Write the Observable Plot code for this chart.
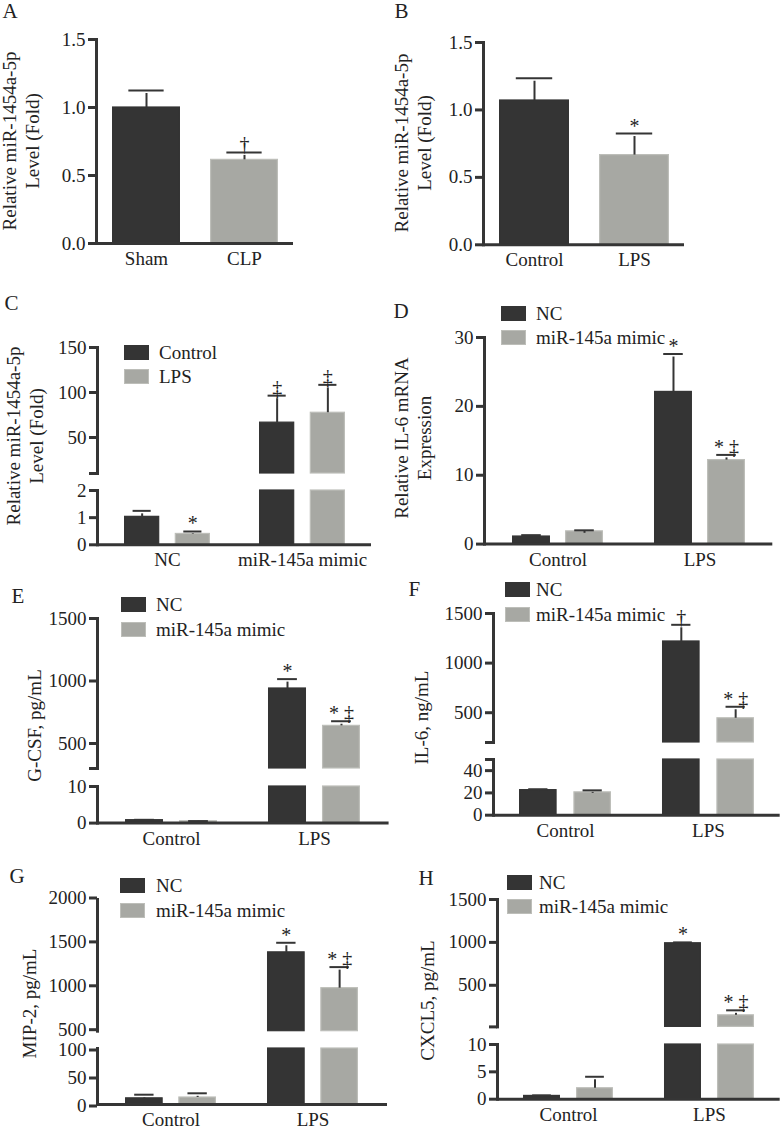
<!DOCTYPE html>
<html>
<head>
<meta charset="utf-8">
<script src="https://cdn.jsdelivr.net/npm/d3@7"></script>
<script src="https://cdn.jsdelivr.net/npm/@observablehq/plot@0.6"></script>
<style>
html, body { margin: 0; padding: 0; background: #fff; }
#root { position: relative; width: 784px; height: 1132px; overflow: hidden; font-family: "Liberation Serif", "DejaVu Serif", serif; color: #222; }
#root svg { position: absolute; overflow: visible; }
.letter { position: absolute; font-size: 21px; line-height: 21px; white-space: nowrap; }
.ylab { position: absolute; font-size: 19px; line-height: 23px; text-align: center; white-space: nowrap; transform: rotate(-90deg); transform-origin: 50% 50%; }
.sw { position: absolute; width: 25px; height: 15px; box-sizing: border-box; }
.lt { position: absolute; font-size: 19px; line-height: 19px; white-space: nowrap; }
</style>
</head>
<body>
<div id="root"></div>
<script>
// ---------------- DATA ----------------
// Panel A
const aCats = ["Sham", "CLP"];
const aMean = [1.0, 0.615];
const aUpper = [1.125, 0.67];
const aSig = ["", "†"];
const aTicks = [0, 0.5, 1.0, 1.5];

// Panel B
const bCats = ["Control", "LPS"];
const bMean = [1.07, 0.665];
const bUpper = [1.235, 0.825];
const bSig = ["", "*"];
const bTicks = [0, 0.5, 1.0, 1.5];

// Panel C (groups: NC / mimic ; series: Control / LPS)
const cGroups = ["NC", "miR-145a mimic"];
const cSeries = ["Control", "LPS"];
const cControlMean = [1.03, 66.5];
const cControlUpper = [1.25, 96.5];
const cControlSig = ["", "‡"];
const cLpsMean = [0.4, 77.5];
const cLpsUpper = [0.49, 108.5];
const cLpsSig = ["*", "‡"];
const cUpperTicks = [10, 50, 100, 150];
const cUpperLabeled = [50, 100, 150];
const cLowerTicks = [0, 1, 2];

// Shared groups / series for D–H
const groups = ["Control", "LPS"];
const series = ["NC", "miR-145a mimic"];

// Panel D
const dNcMean = [1.1, 22.1];
const dNcUpper = [1.3, 27.6];
const dNcSig = ["", "*"];
const dMimMean = [1.85, 12.2];
const dMimUpper = [2.0, 12.95];
const dMimSig = ["", "* ‡"];
const dTicks = [0, 10, 20, 30];

// Panel E (G-CSF)
const eNcMean = [0.8, 940];
const eNcUpper = [0.9, 1015];
const eNcSig = ["", "*"];
const eMimMean = [0.5, 641];
const eMimUpper = [0.55, 678];
const eMimSig = ["", "* ‡"];
const eUpperTicks = [300, 500, 1000, 1500];
const eUpperLabeled = [500, 1000, 1500];
const eLowerTicks = [0, 10];

// Panel F (IL-6)
const fNcMean = [22.5, 1218];
const fNcUpper = [23.3, 1386];
const fNcSig = ["", "†"];
const fMimMean = [20.5, 444];
const fMimUpper = [22.3, 560];
const fMimSig = ["", "* ‡"];
const fUpperTicks = [200, 500, 1000, 1500];
const fUpperLabeled = [500, 1000, 1500];
const fLowerTicks = [0, 20, 40, 50];
const fLowerLabeled = [0, 20, 40];

// Panel G (MIP-2)
const gNcMean = [11, 1398];
const gNcUpper = [17.5, 1507];
const gNcSig = ["", "*"];
const gMimMean = [12.5, 990];
const gMimUpper = [20, 1230];
const gMimSig = ["", "* ‡"];
const gUpperTicks = [500, 1000, 1500, 2000];
const gLowerTicks = [0, 50, 100];

// Panel H (CXCL5)
const hNcMean = [0.6, 990];
const hNcUpper = [0.7, 1000];
const hNcSig = ["", "*"];
const hMimMean = [2.0, 150];
const hMimUpper = [4.1, 208];
const hMimSig = ["", "* ‡"];
const hUpperTicks = [15, 500, 1000, 1500];
const hUpperLabeled = [500, 1000, 1500];
const hLowerTicks = [0, 5, 10];

// ---------------- STYLE ----------------
const FONT = '"Liberation Serif", "DejaVu Serif", serif';
const DARK = "#343434";
const LIGHT = "#a7a8a3";
const LIGHT_EDGE = "#bdbeb9";
const AX = "#353535";
const FS = 19;

const root = document.getElementById("root");

function simpleRows(cats, mean, upper, sig) {
  return cats.map((c, i) => ({group: c, si: i, mean: mean[i], upper: upper[i], sig: sig[i]}));
}
function groupedRows(gs, means, uppers, sigs) {
  return gs.flatMap((g, gi) => means.map((m, si) => ({group: g, si, mean: m[gi], upper: uppers[si][gi], sig: sigs[si][gi]})));
}

function segment(o) {
  const {x0, x1, yTop, yBot, domain, ticks, labeled, fmt, cats, rows, pi, po, gap, grouped, bottom} = o;
  const labelDy = o.labelDy || 0;
  const ML = 70, MR = 10, MT = 34, MB = bottom ? 40 : 6;
  const W = x1 - x0 + ML + MR, H = yBot - yTop + MT + MB;
  const n = cats.length;
  const step = (x1 - x0) / (n - pi + 2 * po);
  const bw = step * (1 - pi);
  const barW = grouped ? (bw - gap) / 2 : bw;
  const capW = barW * 0.52;
  const [lo, hi] = domain;
  const marks = [];
  for (let si = 0; si < 2; si++) {
    const sub = rows.filter(r => r.si === si);
    const inL = grouped ? si * (barW + gap) : 0;
    const inR = grouped ? (1 - si) * (barW + gap) : 0;
    const dx = grouped ? (si - 0.5) * (barW + gap) : 0;
    const fill = si === 0 ? DARK : LIGHT;
    const edge = si === 0 ? DARK : LIGHT_EDGE;
    const inBars = sub.filter(r => r.mean > lo);
    marks.push(Plot.barY(inBars, {
      x: "group", y1: () => lo, y2: r => Math.min(r.mean, hi),
      fill, stroke: edge, strokeWidth: 1.2, insetLeft: inL + 0.6, insetRight: inR + 0.6
    }));
    const withErr = sub.filter(r => r.mean > lo && r.mean < hi);
    marks.push(Plot.ruleX(withErr, {x: "group", y1: "mean", y2: "upper", dx, stroke: AX, strokeWidth: 2, insetBottom: -3}));
    const capIn = (bw - capW) / 2;
    marks.push(Plot.tickY(withErr, {x: "group", y: "upper", dx, stroke: AX, strokeWidth: 2, insetLeft: capIn, insetRight: capIn}));
    marks.push(Plot.text(withErr.filter(r => r.sig), {
      x: "group", y: "upper", text: "sig", dx, dy: -1, lineAnchor: "bottom", fontSize: 20, fill: "#222"
    }));
  }
  const lab = labeled || ticks;
  marks.push(Plot.frame({anchor: "left", stroke: AX, strokeWidth: 3}));
  marks.push(Plot.axisY({
    ticks, tickFormat: d => lab.includes(d) ? fmt(d) : "",
    tickSize: 8, tickPadding: 3, stroke: AX, strokeWidth: 3, fontSize: FS, label: null, dy: labelDy
  }));
  if (bottom) {
    marks.push(Plot.ruleY([lo], {stroke: AX, strokeWidth: 3}));
    marks.push(Plot.axisX({tickSize: 0, tickPadding: 8, fontSize: FS, label: null}));
  }
  const svg = Plot.plot({
    width: W, height: H,
    marginLeft: ML, marginRight: MR, marginTop: MT, marginBottom: MB,
    style: {fontFamily: FONT, fontSize: FS + "px", color: "#222", background: "transparent", overflow: "visible"},
    x: {type: "band", domain: cats, paddingInner: pi, paddingOuter: po, align: 0.5, axis: null},
    y: {domain: [lo, hi], axis: null},
    marks
  });
  svg.style.position = "absolute";
  svg.style.left = (x0 - ML) + "px";
  svg.style.top = (yTop - MT) + "px";
  root.appendChild(svg);
}

function letter(t, x, capTop) {
  const d = document.createElement("div");
  d.className = "letter";
  d.textContent = t;
  d.style.left = (x - 0.5) + "px";
  d.style.top = (capTop - 3.7) + "px";
  root.appendChild(d);
}
function ylabel(lines, cx, cy) {
  const d = document.createElement("div");
  d.className = "ylab";
  const w = 300, h = lines.length * 23;
  d.style.width = w + "px";
  d.style.height = h + "px";
  d.style.left = (cx - w / 2) + "px";
  d.style.top = (cy - h / 2) + "px";
  lines.forEach((l, i) => { if (i) d.appendChild(document.createElement("br")); d.appendChild(document.createTextNode(l)); });
  root.appendChild(d);
}
function legend(names, sx, sy, tx, dy) {
  names.forEach((nm, i) => {
    const s = document.createElement("div");
    s.className = "sw";
    s.style.left = sx + "px";
    s.style.top = (sy + i * dy) + "px";
    s.style.background = i === 0 ? DARK : LIGHT;
    s.style.border = "1.5px solid " + (i === 0 ? DARK : LIGHT_EDGE);
    root.appendChild(s);
    const t = document.createElement("div");
    t.className = "lt";
    t.textContent = nm;
    t.style.left = tx + "px";
    t.style.top = (sy + i * dy + 7.5 - 9.6) + "px";
    root.appendChild(t);
  });
}

const f1 = d3.format(".1f");
const f0 = d3.format("d");

// ---------------- PANEL A ----------------
segment({x0: 96, x1: 293, yTop: 39, yBot: 243, domain: [0, 1.5], ticks: aTicks, fmt: f1,
  cats: aCats, rows: simpleRows(aCats, aMean, aUpper, aSig), pi: 0.31, po: 0.152, grouped: false, bottom: true});
letter("A", 3, 5);
ylabel(["Relative miR-1454a-5p", "Level (Fold)"], 21, 141);

// ---------------- PANEL B ----------------
segment({x0: 482.7, x1: 683.7, yTop: 41.7, yBot: 244, domain: [0, 1.5], ticks: bTicks, fmt: f1,
  cats: bCats, rows: simpleRows(bCats, bMean, bUpper, bSig), pi: 0.30, po: 0.155, grouped: false, bottom: true});
letter("B", 395, 5);
ylabel(["Relative miR-1454a-5p", "Level (Fold)"], 413, 143);

// ---------------- PANEL C ----------------
const cRows = groupedRows(cGroups, [cControlMean, cLpsMean], [cControlUpper, cLpsUpper], [cControlSig, cLpsSig]);
const cX = {x0: 96.7, x1: 370.7, cats: cGroups, rows: cRows, pi: 0.364, po: 0.19, gap: 15, grouped: true, fmt: f0};
segment({...cX, yTop: 346.7, yBot: 472.7, domain: [10, 150], ticks: cUpperTicks, labeled: cUpperLabeled, bottom: false});
segment({...cX, yTop: 490, yBot: 544.3, domain: [0, 2], ticks: cLowerTicks, bottom: true});
letter("C", 5, 297);
ylabel(["Relative miR-1454a-5p", "Level (Fold)"], 25, 436);
legend(cSeries, 124, 345, 159, 24);

// ---------------- PANEL D ----------------
const dRows = groupedRows(groups, [dNcMean, dMimMean], [dNcUpper, dMimUpper], [dNcSig, dMimSig]);
segment({x0: 483.7, x1: 772, yTop: 336.7, yBot: 543.3, domain: [0, 30], ticks: dTicks, fmt: f0,
  cats: groups, rows: dRows, pi: 0.358, po: 0.192, gap: 14.7, grouped: true, bottom: true});
letter("D", 394, 305);
ylabel(["Relative IL-6 mRNA", "Expression"], 413, 438);
legend(series, 501, 306, 536, 24);

// ---------------- PANEL E ----------------
const eRows = groupedRows(groups, [eNcMean, eMimMean], [eNcUpper, eMimUpper], [eNcSig, eMimSig]);
const eX = {x0: 96.7, x1: 388.3, cats: groups, rows: eRows, pi: 0.357, po: 0.198, gap: 16, grouped: true, fmt: f0};
segment({...eX, yTop: 618.3, yBot: 768.3, domain: [300, 1500], ticks: eUpperTicks, labeled: eUpperLabeled, bottom: false});
segment({...eX, yTop: 785.7, yBot: 822.3, domain: [0, 10], ticks: eLowerTicks, bottom: true});
letter("E", 12, 590);
ylabel(["G-CSF, pg/mL"], 33.6, 725);
legend(series, 121, 597, 156, 25);

// ---------------- PANEL F ----------------
const fRows = groupedRows(groups, [fNcMean, fMimMean], [fNcUpper, fMimUpper], [fNcSig, fMimSig]);
const fX = {x0: 493, x1: 779.7, cats: groups, rows: fRows, pi: 0.355, po: 0.175, gap: 16, grouped: true, fmt: f0};
segment({...fX, yTop: 613.3, yBot: 742.3, domain: [200, 1500], ticks: fUpperTicks, labeled: fUpperLabeled, bottom: false});
segment({...fX, yTop: 759.3, yBot: 815, domain: [0, 50], ticks: fLowerTicks, labeled: fLowerLabeled, bottom: true});
letter("F", 409, 583);
ylabel(["IL-6, ng/mL"], 420.6, 717);
legend(series, 505, 582, 536, 25);

// ---------------- PANEL G ----------------
const gRows = groupedRows(groups, [gNcMean, gMimMean], [gNcUpper, gMimUpper], [gNcSig, gMimSig]);
const gX = {x0: 96.7, x1: 386.7, cats: groups, rows: gRows, pi: 0.358, po: 0.196, gap: 15, grouped: true, fmt: f0};
segment({...gX, yTop: 899.3, yBot: 1031, domain: [500, 2000], ticks: gUpperTicks, bottom: false, labelDy: -1.5});
segment({...gX, yTop: 1048.3, yBot: 1104.3, domain: [0, 100], ticks: gLowerTicks, bottom: true, labelDy: 1.5});
letter("G", 10, 870);
ylabel(["MIP-2, pg/mL"], 28.6, 1003);
legend(series, 120, 878, 156, 25);

// ---------------- PANEL H ----------------
const hRows = groupedRows(groups, [hNcMean, hMimMean], [hNcUpper, hMimUpper], [hNcSig, hMimSig]);
const hX = {x0: 497, x1: 779.7, cats: groups, rows: hRows, pi: 0.359, po: 0.175, gap: 15, grouped: true, fmt: f0};
segment({...hX, yTop: 899.3, yBot: 1026.7, domain: [15, 1500], ticks: hUpperTicks, labeled: hUpperLabeled, bottom: false});
segment({...hX, yTop: 1044.3, yBot: 1099, domain: [0, 10], ticks: hLowerTicks, bottom: true});
letter("H", 419, 872);
ylabel(["CXCL5, pg/mL"], 426.6, 1000);
legend(series, 507, 875, 539, 24);
</script>
</body>
</html>
